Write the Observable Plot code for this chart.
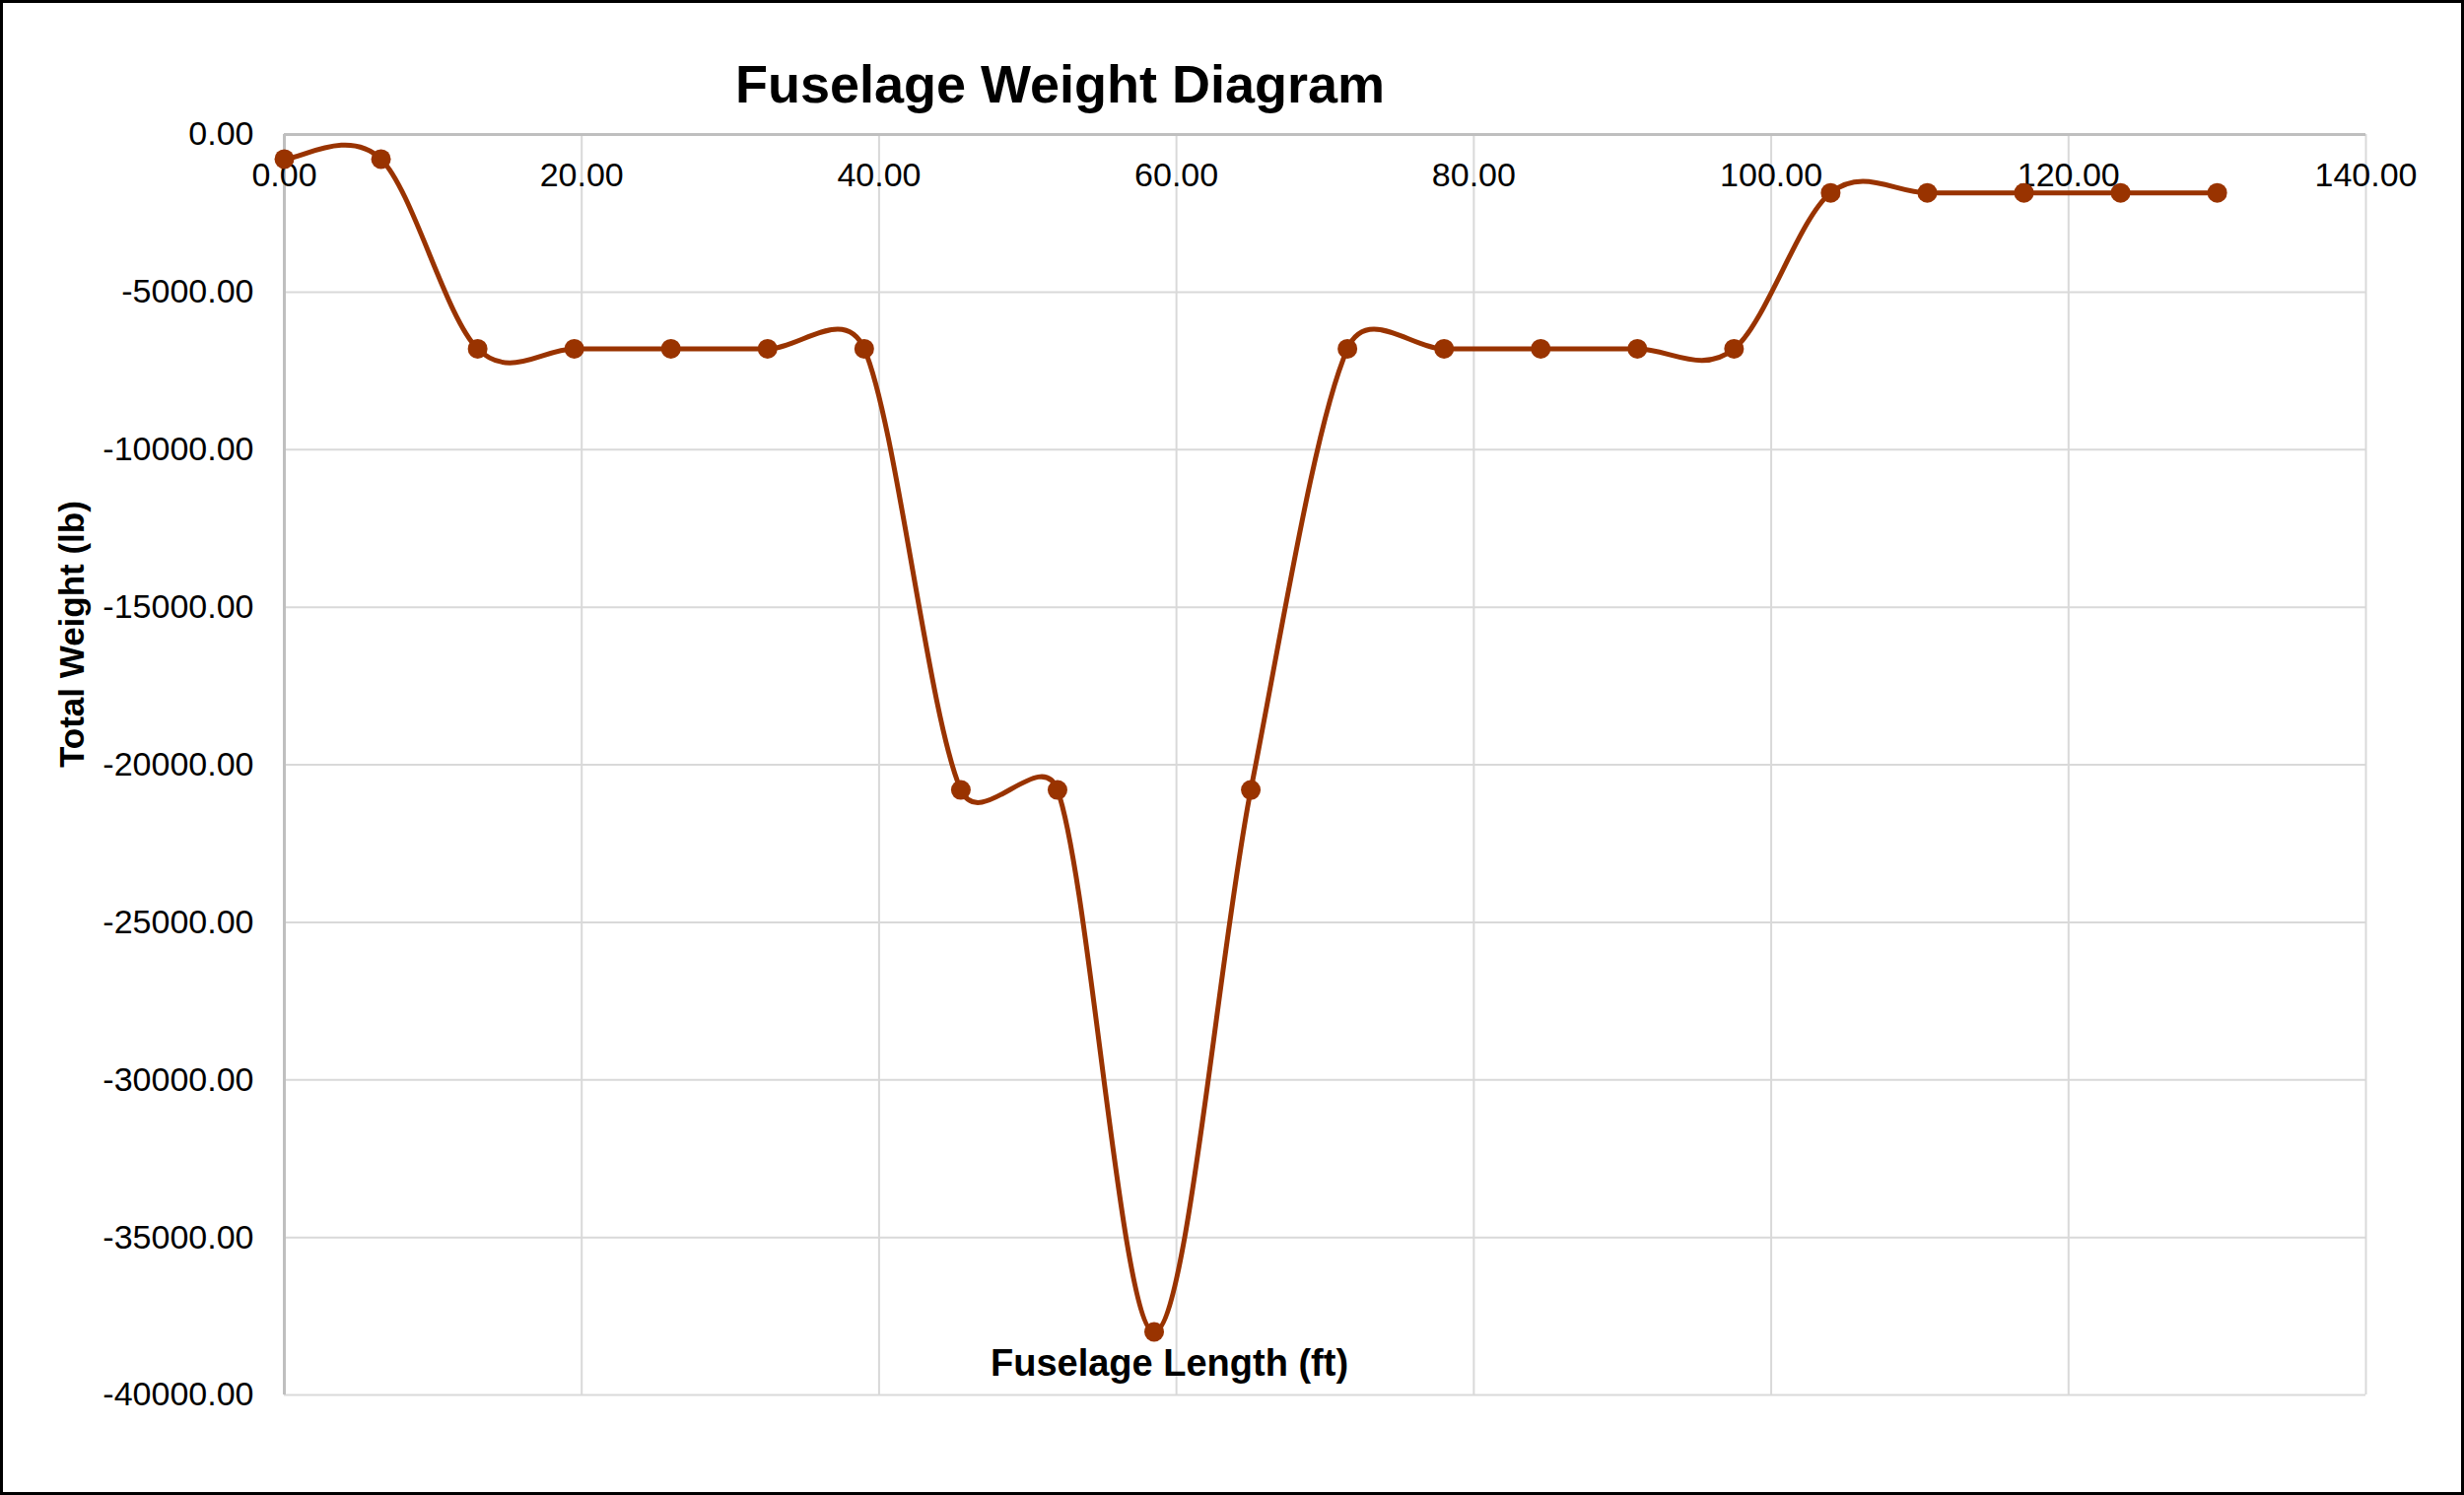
<!DOCTYPE html>
<html>
<head>
<meta charset="utf-8">
<script src="https://cdn.jsdelivr.net/npm/d3@7"></script>
<script src="https://cdn.jsdelivr.net/npm/@observablehq/plot@0.6"></script>
<style>
  html, body { margin: 0; padding: 0; background: #fff; }
  #chart { position: absolute; left: 0; top: 0; }
  #border { position: absolute; left: 0; top: 0; width: 2500px; height: 1517px; box-sizing: border-box; border: 3px solid #000; pointer-events: none; }
</style>
</head>
<body>
<div id="chart"></div>
<div id="border"></div>
<script>
// Data
const lengths = [0, 6.5, 13, 19.5, 26, 32.5, 39, 45.5, 52, 58.5, 65, 71.5, 78, 84.5, 91, 97.5, 104, 110.5, 117, 123.5, 130];
const weights = [-780, -780, -6800, -6800, -6800, -6800, -6800, -20800, -20800, -38000, -20800, -6800, -6800, -6800, -6800, -6800, -1850, -1850, -1850, -1850, -1850];
const xTicks = [0, 20, 40, 60, 80, 100, 120, 140];
const yTicks = [0, -5000, -10000, -15000, -20000, -25000, -30000, -35000, -40000];
const titleText = "Fuselage Weight Diagram";
const xLabel = "Fuselage Length (ft)";
const yLabel = "Total Weight (lb)";

const data = lengths.map((x, i) => ({x, y: weights[i]}));

// Excel-like smoothed line: Bezier with Catmull-Rom tangents (1/6),
// arm length capped at half of the segment length.
function excelCurve(context) {
  let pts = [];
  return {
    areaStart() {}, areaEnd() {},
    lineStart() { pts = []; },
    point(x, y) { pts.push([+x, +y]); },
    lineEnd() {
      const n = pts.length;
      if (!n) return;
      context.moveTo(pts[0][0], pts[0][1]);
      for (let i = 0; i < n - 1; i++) {
        const p0 = pts[Math.max(0, i - 1)], p1 = pts[i], p2 = pts[i + 1], p3 = pts[Math.min(n - 1, i + 2)];
        const d12 = Math.hypot(p2[0] - p1[0], p2[1] - p1[1]);
        const a1 = Math.hypot(p2[0] - p0[0], p2[1] - p0[1]);
        const a2 = Math.hypot(p3[0] - p1[0], p3[1] - p1[1]);
        const k1 = a1 > 0 ? Math.min(1 / 6, 0.5 * d12 / a1) : 0;
        const k2 = a2 > 0 ? Math.min(1 / 6, 0.5 * d12 / a2) : 0;
        context.bezierCurveTo(
          p1[0] + k1 * (p2[0] - p0[0]), p1[1] + k1 * (p2[1] - p0[1]),
          p2[0] - k2 * (p3[0] - p1[0]), p2[1] - k2 * (p3[1] - p1[1]),
          p2[0], p2[1]
        );
      }
    }
  };
}

const fmt = d => d.toFixed(2);
const lineColor = "#993300";
const gridColor = "#d9d9d9";
const axisColor = "#bfbfbf";

const chart = Plot.plot({
  width: 2500,
  height: 1517,
  marginLeft: 288,
  marginRight: 100,
  marginTop: 136,
  marginBottom: 102,
  x: {domain: [0, 140]},
  y: {domain: [-40000, 0]},
  style: {fontFamily: "'Liberation Sans', Arial, Helvetica, sans-serif", fontSize: "34px", color: "#000", background: "#fff", overflow: "visible"},
  marks: [
    Plot.gridX(xTicks, {stroke: gridColor, strokeOpacity: 1, strokeWidth: 2}),
    Plot.gridY(yTicks, {stroke: gridColor, strokeOpacity: 1, strokeWidth: 2}),
    Plot.ruleY([0], {stroke: axisColor, strokeWidth: 3}),
    Plot.ruleX([0], {stroke: axisColor, strokeWidth: 3}),
    Plot.axisY(yTicks, {tickSize: 0, tickPadding: 31, tickFormat: fmt, label: null, fontSize: 34}),
    Plot.axisX(xTicks, {anchor: "top", tickSize: 0, tickPadding: 0, dy: 52, tickFormat: fmt, label: null, fontSize: 34}),
    Plot.line(data, {x: "x", y: "y", curve: excelCurve, stroke: lineColor, strokeWidth: 5}),
    Plot.dot(data, {x: "x", y: "y", r: 10, fill: lineColor, stroke: null}),
    Plot.text([titleText], {frameAnchor: "top", dx: -269, dy: -50, lineAnchor: "middle", fontSize: 54, fontWeight: "bold"}),
    Plot.text([xLabel], {frameAnchor: "bottom", dx: -158, dy: -32, lineAnchor: "middle", fontSize: 38, fontWeight: "bold"}),
    Plot.text([yLabel], {frameAnchor: "left", dx: -215, dy: 3, rotate: -90, lineAnchor: "middle", fontSize: 35, fontWeight: "bold"})
  ]
});
document.getElementById("chart").appendChild(chart);
</script>
</body>
</html>
